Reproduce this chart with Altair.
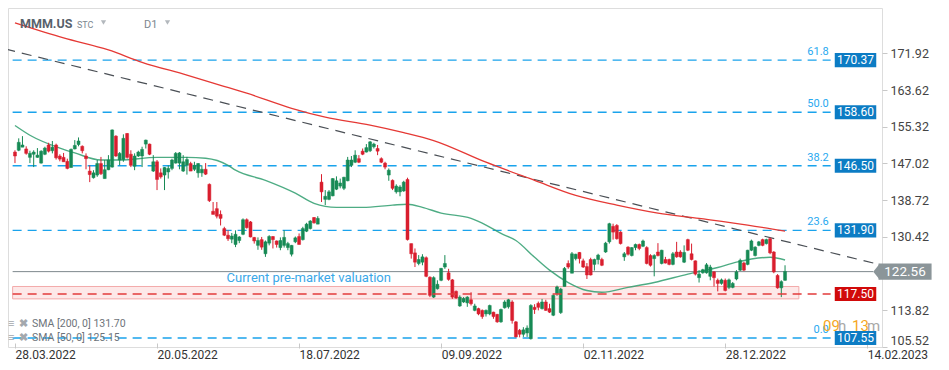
import altair as alt
import pandas as pd

# ---------------- data ----------------
opens = [149.6,150.0,150.7,150.3,148.4,149.1,148.4,147.1,149.1,151.2,149.9,151.2,148.7,148.4,147.5,146.1,150.3,151.3,150.9,148.7,
         145.3,143.8,144.4,147.0,143.6,145.6,146.2,153.2,147.8,147.9,153.8,149.1,146.4,148.7,148.7,151.4,151.4,145.3,147.4,144.9,
         144.4,145.1,145.9,147.1,147.1,145.3,146.6,147.0,145.7,144.9,144.9,145.7,142.3,136.2,136.8,135.5,132.3,130.8,129.9,128.7,
         129.6,131.0,134.3,133.8,130.3,128.5,129.8,126.6,129.0,130.5,129.5,128.0,128.5,128.0,126.5,129.3,130.5,129.8,131.7,132.3,
         134.8,133.3,142.8,138.9,138.9,139.7,141.2,141.9,141.4,143.1,146.6,147.3,148.1,149.8,149.6,149.9,150.8,150.4,148.1,147.1,
         144.4,143.2,140.6,140.6,140.8,143.4,128.9,126.8,124.4,124.7,125.7,121.3,116.8,118.7,120.6,123.6,122.3,120.7,118.1,114.8,
         115.7,115.5,116.2,113.8,114.2,113.8,113.0,113.0,113.4,112.9,111.2,114.4,114.6,115.7,111.2,109.3,108.4,108.7,107.4,114.5,
         115.4,114.2,115.7,114.2,112.7,117.6,113.3,119.2,124.4,122.2,125.5,126.9,125.0,123.7,125.3,124.2,125.3,125.3,127.0,129.3,
         132.8,133.0,131.5,125.9,128.1,126.2,128.0,128.7,128.3,128.0,126.2,125.5,127.0,124.4,125.3,125.3,124.2,127.0,127.0,124.7,
         129.8,126.6,125.0,121.2,122.3,122.3,121.5,122.5,120.6,119.9,120.6,119.0,119.0,120.9,122.9,124.5,124.2,127.4,126.2,128.5,
         129.8,128.9,130.0,127.0,121.7,118.9,120.6]
highs = [150.0,152.7,153.2,150.9,149.9,150.0,150.5,150.0,150.8,151.7,152.1,151.5,149.1,149.4,148.1,150.4,152.3,152.9,151.1,149.3,
         146.6,145.5,147.8,148.5,147.8,148.9,154.7,153.4,149.6,153.6,153.9,150.0,149.3,149.9,150.8,152.4,151.5,148.9,147.8,145.9,
         146.2,146.6,148.1,149.6,149.6,148.9,148.5,147.4,147.4,147.1,146.6,147.1,142.5,138.3,138.3,136.4,132.7,131.9,131.3,131.9,
         130.6,134.6,134.6,134.0,130.4,130.3,130.4,129.6,130.8,130.6,129.6,130.3,131.9,129.3,128.6,130.5,131.2,132.7,133.6,134.2,
         134.9,135.1,144.6,141.0,141.0,143.7,144.1,143.6,144.0,148.5,148.7,150.0,148.9,150.4,151.4,152.1,151.7,151.2,148.4,147.4,
         145.9,143.4,142.3,142.1,143.1,143.8,128.9,127.8,126.3,126.5,126.0,121.5,121.5,120.6,123.4,126.3,123.2,120.9,118.3,117.2,
         116.8,117.0,117.9,115.3,114.4,114.0,114.0,115.1,113.5,113.0,114.2,116.1,116.4,116.1,111.4,109.6,110.0,110.4,115.2,115.2,
         115.8,116.4,116.2,115.3,117.4,119.4,118.9,123.6,125.1,127.0,126.6,127.0,125.5,124.5,125.7,125.5,126.6,125.7,129.3,133.6,
         133.4,133.3,131.7,127.0,128.3,128.1,128.9,128.9,129.8,128.3,126.5,126.5,129.0,127.5,125.9,125.5,127.0,129.3,127.4,128.5,
         130.0,128.9,125.1,122.9,123.2,124.5,124.1,122.7,121.0,121.0,121.0,121.0,120.2,122.9,125.5,124.8,127.5,129.8,128.3,129.5,
         130.0,130.0,130.3,127.2,122.0,120.6,124.0]
lows = [147.1,149.8,150.7,149.0,147.1,146.2,148.3,147.0,148.9,149.5,149.3,147.9,147.5,147.4,145.7,146.1,150.2,150.9,149.3,145.7,
        142.8,143.6,144.0,144.4,143.6,145.5,146.1,148.5,146.6,147.4,148.1,146.2,145.5,148.5,146.2,150.4,148.9,145.1,141.0,143.6,
        141.0,143.6,145.5,147.0,145.7,145.1,144.5,145.3,145.3,143.8,144.0,144.4,138.3,135.5,134.6,133.0,130.6,129.5,129.0,128.1,
        129.0,130.8,132.3,130.3,128.9,127.5,127.5,125.9,128.5,127.8,128.0,127.4,128.0,127.4,126.0,129.0,128.7,129.6,131.5,132.1,
        133.4,133.3,138.3,137.6,138.7,139.6,141.0,141.4,141.0,143.0,146.2,147.1,147.1,148.9,149.5,149.6,150.4,148.9,147.1,145.7,
        143.1,141.0,140.2,139.6,140.6,129.6,125.5,123.6,124.0,124.0,121.3,116.8,116.6,118.5,120.4,123.2,120.5,116.4,116.4,114.6,
        115.5,114.6,114.9,113.6,112.7,111.9,112.4,112.7,111.9,111.0,111.0,114.2,114.2,110.8,107.7,107.7,107.8,107.8,107.2,113.0,
        113.8,114.0,113.7,113.2,112.5,117.1,113.0,119.2,123.2,122.2,125.1,124.4,123.4,120.9,121.7,122.8,124.2,123.8,126.8,128.9,
        129.8,129.8,128.7,125.0,126.2,126.0,127.4,127.4,128.1,124.2,123.7,121.5,126.0,124.2,124.4,124.0,124.0,125.7,125.7,124.5,
        127.2,125.1,121.7,120.1,122.1,122.1,120.6,119.2,118.1,119.6,118.1,118.6,118.8,120.6,122.7,122.7,124.0,127.2,126.0,128.3,
        128.3,128.7,126.5,122.2,118.7,116.8,120.5]
closes = [148.7,151.8,151.2,149.3,149.3,149.6,148.9,149.8,150.5,149.8,150.7,148.3,148.0,147.4,145.9,150.2,151.1,152.1,149.9,148.1,
          144.5,144.9,147.0,144.7,145.6,147.8,154.6,148.7,149.3,152.7,148.4,146.6,148.7,149.6,150.2,152.3,149.1,147.4,143.4,144.0,
          146.1,145.9,147.8,149.3,149.4,147.4,147.9,145.3,146.6,147.0,145.7,144.6,138.6,135.5,135.1,134.6,130.8,130.0,130.6,131.0,
          130.4,134.3,132.5,130.4,129.5,129.6,128.1,129.3,130.5,129.8,128.7,129.6,130.3,128.9,128.5,130.2,128.7,132.3,133.3,134.0,
          133.6,134.6,140.6,139.6,140.6,143.6,143.1,142.6,143.9,147.8,147.8,148.9,147.3,149.1,150.6,151.9,151.4,149.8,147.3,146.2,
          145.5,141.4,141.9,141.7,142.8,129.8,126.6,124.7,125.3,125.9,121.5,117.2,121.2,119.7,123.3,124.4,120.8,116.8,116.6,116.8,
          116.5,116.8,115.3,114.8,113.0,112.4,113.8,114.9,112.4,111.2,114.0,115.7,116.2,111.5,107.8,108.4,109.4,109.8,114.9,114.0,
          114.5,115.7,113.8,113.4,117.2,119.1,118.6,123.3,123.6,126.6,126.5,125.5,123.6,121.8,121.8,125.3,126.3,124.0,129.0,133.4,
          131.5,130.0,128.9,126.6,126.5,128.0,128.7,127.8,129.5,124.4,124.0,126.2,126.2,127.4,124.5,124.2,126.6,125.9,125.9,126.9,
          127.4,125.3,122.0,122.0,123.0,124.1,123.6,121.2,119.9,120.7,118.3,120.7,119.9,122.5,125.1,122.9,127.4,129.5,128.1,129.3,
          128.5,129.8,126.8,122.5,118.9,120.3,122.6]

sma200_idx = [0, 13, 25, 34, 46, 55, 62, 74, 83, 95, 104, 112, 126, 139, 150, 161, 172, 183, 196, 206]
sma200_val = [178.8, 175.4, 172.7, 169.9, 167.0, 164.7, 162.9, 159.5, 157.5, 155.7, 154.0, 152.2, 147.3, 143.2, 139.8, 137.6,
              135.8, 134.6, 133.1, 131.7]

sma50_idx = [0, 4, 12, 16, 23, 28, 38, 46, 51, 57, 59, 67, 75, 80, 86, 93, 101, 105, 109, 114, 122, 126, 130, 134, 139, 143,
             148, 153, 157, 164, 171, 180, 188, 193, 202, 206]
sma50_val = [155.6, 153.4, 150.5, 149.4, 147.8, 147.8, 148.4, 148.4, 148.2, 146.6, 145.5, 143.2, 140.3, 138.0, 137.1, 137.1,
             137.6, 137.8, 137.1, 135.8, 134.6, 133.1, 131.2, 129.6, 125.8, 122.9, 120.1, 118.3, 117.9, 119.0, 120.1, 122.0,
             123.5, 124.7, 125.8, 125.2]

trend_idx = [-2.6, 230.1]
trend_val = [172.9, 124.4]

fib_levels = [170.37, 158.60, 146.50, 131.90, 107.55]
fib_ratios = ["61.8", "50.0", "38.2", "23.6", "0.0"]

support_level = 117.50
support_zone = [116.4, 119.2]
last_price = 122.56

x_tick_idx = [0, 38, 76, 114, 152, 190, 228]
x_tick_labels = ["28.03.2022", "20.05.2022", "18.07.2022", "09.09.2022", "02.11.2022", "28.12.2022", "14.02.2023"]
y_tick_vals = [171.92, 163.62, 155.32, 147.02, 138.72, 130.42, 113.82, 105.52]

# ---------------- styling / layout ----------------
W, H = 874, 339
X_DOMAIN = [-0.53, 230.6]
Y_DOMAIN = [105.52, 182.17]
FONT = "Roboto"
GREEN, RED = "#178a55", "#d91e2e"
FIB_BLUE, BOX_BLUE, BOX_RED, GRAY = "#1aa3ec", "#0c7cc4", "#d10a0a", "#8b9599"
LINE_END, BOX_L, BOX_R = 218.2, 219.3, 230.4

xs = alt.Scale(domain=X_DOMAIN, nice=False, zero=False)
ys = alt.Scale(domain=Y_DOMAIN, nice=False, zero=False)

label_expr = " : ".join(f"datum.value == {i} ? '{l}'" for i, l in zip(x_tick_idx, x_tick_labels)) + " : ''"
X_AX = alt.Axis(values=x_tick_idx, labelExpr=label_expr, grid=False, domain=False, tickColor="#c8c8c8",
                tickSize=5, labelColor="#333333", labelFontSize=12, labelFont=FONT, labelAlign="left",
                labelPadding=1, offset=-4, title=None, labelFlush=False, labelOverlap=False)
Y_AX = alt.Axis(orient="right", values=y_tick_vals, format=".2f", grid=False, domain=False, tickColor="#c8c8c8",
                tickSize=5, labelColor="#444444", labelFontSize=12.5, labelFont=FONT, labelPadding=3, title=None,
                labelFlush=True, labelOverlap=False)


def X(f):
    return alt.X(f, scale=xs, axis=X_AX)


def Y(f):
    return alt.Y(f, scale=ys, axis=Y_AX)


df = pd.DataFrame({"i": list(range(len(opens))), "open": opens, "high": highs, "low": lows, "close": closes})
df["dir"] = ["up" if c >= o else "down" for o, c in zip(opens, closes)]
col = alt.Color("dir:N", scale=alt.Scale(domain=["up", "down"], range=[GREEN, RED]), legend=None)

zone = alt.Chart(pd.DataFrame({"x0": [X_DOMAIN[0] - 0.1], "x1": [209.7], "lo": [support_zone[0]], "hi": [support_zone[1]]})
                 ).mark_rect(fill="#fde8e8", stroke="#f3aaaa", strokeWidth=1).encode(
    x=X("x0:Q"), x2="x1", y=Y("lo:Q"), y2="hi")

fib = pd.DataFrame({"level": fib_levels, "ratio": fib_ratios, "label": [f"{v:.2f}" for v in fib_levels],
                    "x0": X_DOMAIN[0] - 0.1, "x1": LINE_END, "bx0": BOX_L, "bx1": BOX_R, "bxc": (BOX_L + BOX_R) / 2,
                    "rx": 217.7})
fib["lo"] = fib["level"] - 1.6
fib["hi"] = fib["level"] + 1.6
fib["ry"] = fib["level"] + 1.8

fib_rules = alt.Chart(fib).mark_rule(color=FIB_BLUE, strokeDash=[9, 6], strokeWidth=1.3).encode(
    x=X("x0:Q"), x2="x1", y=Y("level:Q"))
fib_boxes = alt.Chart(fib).mark_rect(color=BOX_BLUE).encode(x=X("bx0:Q"), x2="bx1", y=Y("lo:Q"), y2="hi")
fib_box_txt = alt.Chart(fib).mark_text(color="white", fontSize=12, font=FONT).encode(
    x=X("bxc:Q"), y=Y("level:Q"), text="label:N")
fib_ratio_txt = alt.Chart(fib).mark_text(color="#29a9f0", fontSize=11, font=FONT, align="right").encode(
    x=X("rx:Q"), y=Y("ry:Q"), text="ratio:N")

sup = pd.DataFrame({"level": [support_level], "label": [f"{support_level:.2f}"], "x0": [X_DOMAIN[0] - 0.1],
                    "x1": [LINE_END], "bx0": [BOX_L], "bx1": [BOX_R], "bxc": [(BOX_L + BOX_R) / 2],
                    "lo": [support_level - 1.6], "hi": [support_level + 1.6]})
sup_rule = alt.Chart(sup).mark_rule(color="#e23b3b", strokeDash=[9, 6], strokeWidth=1.3).encode(
    x=X("x0:Q"), x2="x1", y=Y("level:Q"))
sup_box = alt.Chart(sup).mark_rect(color=BOX_RED).encode(x=X("bx0:Q"), x2="bx1", y=Y("lo:Q"), y2="hi")
sup_txt = alt.Chart(sup).mark_text(color="white", fontSize=12, font=FONT).encode(
    x=X("bxc:Q"), y=Y("level:Q"), text="label:N")

lp = pd.DataFrame({"level": [last_price], "label": [f"{last_price:.2f}"], "x0": [X_DOMAIN[0] - 0.1], "x1": [229.6],
                   "bx0": [231.0], "bx1": [245.2], "bxc": [238.1], "lo": [last_price - 1.85], "hi": [last_price + 1.85]})
lp_rule = alt.Chart(lp).mark_rule(color="#7d878c", strokeWidth=1).encode(x=X("x0:Q"), x2="x1", y=Y("level:Q"))
lp_box = alt.Chart(lp).mark_rect(color=GRAY).encode(x=X("bx0:Q"), x2="bx1", y=Y("lo:Q"), y2="hi")
lp_arrow = alt.Chart(lp).mark_point(shape="M0.8,-1L0,0L0.8,1Z", filled=True, color=GRAY, opacity=1, size=270).encode(
    x=X("x1:Q"), y=Y("level:Q"))
lp_txt = alt.Chart(lp).mark_text(color="white", fontSize=13.5, font=FONT).encode(
    x=X("bxc:Q"), y=Y("level:Q"), text="label:N")

trend = alt.Chart(pd.DataFrame({"i": trend_idx, "v": trend_val})).mark_line(
    color="#4a4f55", strokeDash=[10, 7], strokeWidth=1.2).encode(x=X("i:Q"), y=Y("v:Q"))

sma200 = alt.Chart(pd.DataFrame({"i": sma200_idx, "v": sma200_val})).mark_line(
    color="#e53935", strokeWidth=1.3, interpolate="monotone").encode(x=X("i:Q"), y=Y("v:Q"))
sma50 = alt.Chart(pd.DataFrame({"i": sma50_idx, "v": sma50_val})).mark_line(
    color="#2f9e6e", strokeWidth=1.4, opacity=0.85, interpolate="monotone").encode(x=X("i:Q"), y=Y("v:Q"))

wicks = alt.Chart(df).mark_rule(strokeWidth=1).encode(x=X("i:Q"), y=Y("low:Q"), y2="high", color=col)
bodies = alt.Chart(df).mark_bar(size=3, strokeWidth=0.5).encode(
    x=X("i:Q"), y=Y("open:Q"), y2="close", color=col, stroke=col)

note = alt.Chart(pd.DataFrame({"i": [56.6], "v": [121.2], "t": ["Current pre-market valuation"]})).mark_text(
    color="#3aa8e8", fontSize=13, font=FONT, align="left").encode(x=X("i:Q"), y=Y("v:Q"), text="t:N")

# UI chrome (pixel positions inside the plot area)
hdr = pd.DataFrame({"px": [12], "py": [15.5], "t": ["MMM.US"]})
header = alt.Chart(hdr).mark_text(fontSize=12.5, fontWeight="bold", color="#58616b", font=FONT, align="left").encode(
    x=alt.X("px:Q", scale=None), y=alt.Y("py:Q", scale=None), text="t:N")
hdr2 = pd.DataFrame({"px": [69, 136], "py": [16.5, 16.5], "t": ["STC", "D1"], "fs": [9, 11]})
header2 = alt.Chart(hdr2).mark_text(color="#7d8790", font=FONT, align="left").encode(
    x=alt.X("px:Q", scale=None), y=alt.Y("py:Q", scale=None), text="t:N", size=alt.Size("fs:Q", scale=None))
tri = pd.DataFrame({"px": [95.5, 159.5], "py": [14.5, 14.5]})
header_tri = alt.Chart(tri).mark_point(shape="triangle-down", filled=True, color="#b3b8bd", opacity=1, size=28).encode(
    x=alt.X("px:Q", scale=None), y=alt.Y("py:Q", scale=None))

leg = pd.DataFrame({"px": [24, 24], "py": [315.5, 329.5], "t": ["SMA  [200,  0]  131.70", "SMA  [50,  0]  125.15"]})
legend_txt = alt.Chart(leg).mark_text(fontSize=10.5, color="#6d737a", font=FONT, align="left").encode(
    x=alt.X("px:Q", scale=None), y=alt.Y("py:Q", scale=None), text="t:N")
icons = pd.DataFrame({"px": [0, 11, 0, 11], "py": [315.5, 315.5, 329.5, 329.5], "t": ["≡", "✖", "≡", "✖"]})
legend_icons = alt.Chart(icons).mark_text(fontSize=11, color="#a3a8ad", align="left", fontWeight="bold").encode(
    x=alt.X("px:Q", scale=None), y=alt.Y("py:Q", scale=None), text="t:N")

timer = pd.DataFrame({"px": [815, 830, 844, 859], "py": [318, 318, 318, 318], "t": ["09", "h", "13", "m"],
                      "c": ["#f5a623", "#a8a8a8", "#f5a623", "#a8a8a8"]})
timer_txt = alt.Chart(timer).mark_text(fontSize=15, font=FONT, align="left").encode(
    x=alt.X("px:Q", scale=None), y=alt.Y("py:Q", scale=None), text="t:N", color=alt.Color("c:N", scale=None))

chart = alt.layer(
    zone, fib_rules, lp_rule, trend, sma200, sma50, wicks, bodies, sup_rule,
    fib_boxes, fib_box_txt, fib_ratio_txt, sup_box, sup_txt, lp_box, lp_arrow, lp_txt, note,
    header, header2, header_tri, legend_icons, legend_txt, timer_txt
).resolve_scale(color="independent").properties(
    width=W, height=H, padding={"left": 0, "top": 0, "right": 57, "bottom": 13},
    autosize=alt.AutoSizeParams(type="none")
).configure_view(stroke=None).configure(background="white")

chart.save("out.html", embed_options={"renderer": "svg", "actions": False})
